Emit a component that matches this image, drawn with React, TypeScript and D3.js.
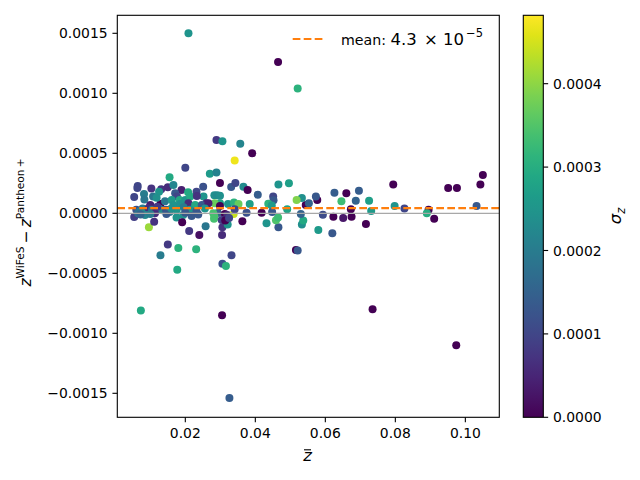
import React from 'react';
import * as d3 from 'd3';

// ---------- data ----------
const zbar = [
  0.0209,0.0465,0.0521,0.0289,0.0306,0.0357,0.0391,0.0341,0.0200,0.0270,
  0.0289,0.0155,0.1050,0.1043,0.0951,0.0976,0.0794,0.1032,0.0798,0.0826,
  0.0895,0.0890,0.0911,0.0974,0.0735,0.0305,0.0073,0.0326,0.0306,0.0316,
  0.0332,0.0177,0.0129,0.0150,0.0180,0.0231,0.0240,0.0211,0.0096,0.0258,
  0.0305,0.0306,0.0321,0.0466,0.0432,0.0459,0.0465,0.0533,0.0537,0.0580,
  0.0620,0.0516,0.0521,0.0716,0.0651,0.0623,0.0675,0.0673,0.0593,0.0577,
  0.0544,0.0553,0.0573,0.0533,0.0518,0.0491,0.0530,0.0626,0.0646,0.0660,
  0.0687,0.0696,0.0725,0.0731,0.0466,0.0496,0.0299,0.0331,0.0343,0.0366,
  0.0378,0.0407,0.0283,0.0291,0.0299,0.0451,0.0452,0.0299,0.0322,0.0339,
  0.0352,0.0384,0.0437,0.0447,0.0284,0.0299,0.0293,0.0313,0.0320,0.0338,
  0.0341,0.0375,0.0418,0.0448,0.0283,0.0282,0.0304,0.0314,0.0325,0.0363,
  0.0064,0.0063,0.0103,0.0131,0.0150,0.0166,0.0189,0.0208,0.0232,0.0251,
  0.0054,0.0082,0.0083,0.0108,0.0125,0.0171,0.0176,0.0184,0.0200,0.0214,
  0.0252,0.0260,0.0129,0.0100,0.0118,0.0142,0.0161,0.0166,0.0185,0.0209,
  0.0228,0.0247,0.0266,0.0233,0.0060,0.0070,0.0078,0.0088,0.0095,0.0105,
  0.0115,0.0125,0.0135,0.0145,0.0155,0.0175,0.0213,0.0232,0.0256,0.0054,
  0.0085,0.0113,0.0111,0.0146,0.0194,0.0175,0.0218,0.0237,0.0280,0.0191,
  0.0065,0.0072,0.0100,0.0160,0.0120,0.0195,0.0200,
];

// z_WiFeS - z_Pantheon+, in units of 1e-4
const dzE4 = [
  15.0,12.6,10.4,6.1,6.0,5.8,5.0,4.4,3.8,3.3,
  3.4,3.0,3.2,2.4,2.1,2.1,2.4,0.6,0.6,0.4,
  0.3,0.0,-0.45,-11.0,-8.0,-8.5,-8.1,-15.4,-4.2,-4.4,
  -3.5,-4.7,-3.5,-2.6,-2.9,-3.0,-1.8,-1.47,-1.17,-1.08,
  -1.8,-1.17,-0.94,-1.17,-0.83,-0.58,-0.36,-0.94,-0.61,-1.39,
  -1.66,-3.06,-3.11,-0.9,-0.39,-0.28,-0.28,0.33,-0.12,1.11,
  0.69,0.83,1.39,1.28,1.11,0.33,-0.06,1.72,1.0,1.67,
  1.05,1.88,1.05,0.19,2.4,2.5,2.52,2.2,2.52,2.22,
  1.94,1.55,1.5,1.5,1.47,1.39,1.08,0.83,0.78,0.89,
  0.78,0.78,0.8,0.65,0.83,0.61,0.03,-0.06,-0.14,-0.06,
  0.33,0.05,0.05,0.1,-0.28,-0.45,-0.56,-0.61,-0.4,-0.66,
  2.28,2.11,2.06,2.0,2.18,2.36,1.94,1.75,1.8,2.22,
  1.35,1.6,1.15,1.39,1.8,1.67,1.39,1.11,1.11,1.39,
  1.39,0.83,0.78,0.69,1.3,1.0,1.1,0.7,0.78,0.83,
  0.7,0.7,0.83,1.44,0.3,0.15,0.4,0.2,0.45,0.3,
  0.15,0.4,0.25,0.3,0.1,0.28,0.3,0.2,0.4,-0.3,
  -0.14,0.0,-0.7,-0.05,-0.14,-0.35,-0.22,-0.1,0.0,-0.75,
  0.0,-0.1,-0.05,0.4,0.55,0.5,0.05,
];

// sigma_z, in units of 1e-5
const sigmaE5 = [
  25,0,31,8,25,22,0,47,10,26,
  21,29,0,0,0,0,0,13,25,10,
  0,30,0,0,0,0,29,14,12,31,
  10,29,20,8,31,31,2,8,41,19,
  6,7,25,13,25,35,33,24,29,26,
  13,0,13,0,3,0,0,0,11,0,
  0,15,13,24,39,28,15,14,33,0,
  15,14,27,26,25,27,0,13,10,23,
  0,14,24,23,24,10,13,28,25,31,
  37,27,31,26,37,0,14,0,6,44,
  10,12,0,13,35,34,9,0,10,0,
  10,10,7,7,6,22,4,29,10,12,
  10,20,19,19,25,13,10,29,25,29,
  25,5,0,4,24,19,26,25,24,6,
  29,13,4,7,12,22,20,22,6,19,
  13,24,22,12,20,25,25,13,25,9,
  22,6,7,13,24,25,13,13,34,0,
  18,15,20,24,8,20,13,
];

const xTicks = [0.02, 0.04, 0.06, 0.08, 0.10];
const yTicks = [-0.0015, -0.001, -0.0005, 0, 0.0005, 0.001, 0.0015];
const cTicks = [0, 0.0001, 0.0002, 0.0003, 0.0004];
const meanValue = 4.3e-5;
const meanWord = 'mean:';
const meanMantissa = '4.3';
const meanBase = '10';
const meanExp = '−5';

const xDomain: [number, number] = [0.00057, 0.1097];
const yDomain: [number, number] = [-0.0017, 0.00165];
const cDomain: [number, number] = [0, 0.000482];

// ---------- layout ----------
const W = 640, H = 480;
const AX = { left: 117.3, right: 499.3, top: 15.3, bottom: 417.3 };
const CB = { left: 523.3, right: 543.3 };
const FONT = '"DejaVu Sans", sans-serif';
const FS = 13.9;
const TICK = 4.86;

const fmtY = (v: number) => (v < 0 ? '−' : '') + Math.abs(v).toFixed(4);

export default function App() {
  const x = d3.scaleLinear().domain(xDomain).range([AX.left, AX.right]);
  const y = d3.scaleLinear().domain(yDomain).range([AX.bottom, AX.top]);
  const cy = d3.scaleLinear().domain(cDomain).range([AX.bottom, AX.top]);
  const color = d3.scaleSequential(d3.interpolateViridis).domain(cDomain);

  const pts = zbar.map((z, i) => ({ z, d: dzE4[i] * 1e-4, s: sigmaE5[i] * 1e-5 }));
  const stops = d3.range(0, 1.0001, 0.05);

  return (
    <svg width={W} height={H} style={{ position: 'fixed', left: 0, top: 0, background: '#fff' }}
      fontFamily={FONT}>
      <defs>
        <linearGradient id="vir" x1="0" y1="1" x2="0" y2="0">
          {stops.map((t) => (
            <stop key={t} offset={t} stopColor={d3.interpolateViridis(t)} />
          ))}
        </linearGradient>
        <clipPath id="axclip">
          <rect x={AX.left} y={AX.top} width={AX.right - AX.left} height={AX.bottom - AX.top} />
        </clipPath>
      </defs>
      <rect x={0} y={0} width={W} height={H} fill="#fff" />

      {/* scatter */}
      <g clipPath="url(#axclip)">
        {pts.map((p, i) => (
          <circle key={i} cx={x(p.z)} cy={y(p.d)} r={4.0} fill={color(p.s)} />
        ))}
        <line x1={AX.left} x2={AX.right} y1={y(0)} y2={y(0)} stroke="#a8a8a8" strokeWidth={1.2} />
        <line x1={AX.left} x2={AX.right} y1={y(meanValue)} y2={y(meanValue)}
          stroke="#ff7f0e" strokeWidth={2.08} strokeDasharray="7.7 3.3" />
      </g>

      {/* axes frame */}
      <rect x={AX.left} y={AX.top} width={AX.right - AX.left} height={AX.bottom - AX.top}
        fill="none" stroke="#000" strokeWidth={1.1} />

      {/* x ticks */}
      {xTicks.map((t) => (
        <g key={t}>
          <line x1={x(t)} x2={x(t)} y1={AX.bottom} y2={AX.bottom + TICK} stroke="#000" strokeWidth={1.1} />
          <text x={x(t)} y={AX.bottom + TICK + 4.86 + 10.9} fontSize={FS} textAnchor="middle">{t.toFixed(2)}</text>
        </g>
      ))}
      {/* y ticks */}
      {yTicks.map((t) => (
        <g key={t}>
          <line x1={AX.left - TICK} x2={AX.left} y1={y(t)} y2={y(t)} stroke="#000" strokeWidth={1.1} />
          <text x={AX.left - TICK - 4.86} y={y(t) + 5.1} fontSize={FS} textAnchor="end">{fmtY(t)}</text>
        </g>
      ))}

      {/* x label: z-bar */}
      <text x={307.5} y={460.7} fontSize={16.5} fontStyle="italic" textAnchor="middle">z</text>
      <line x1={304} x2={311} y1={449.8} y2={449.8} stroke="#000" strokeWidth={1.1} />

      {/* y label */}
      <text transform="translate(30.5,222.5) rotate(-90)" fontSize={15.5} textAnchor="middle">
        <tspan fontStyle="italic">z</tspan>
        <tspan fontSize={10.6} dy={-7}>WiFeS</tspan>
        <tspan dy={7}>{'\u2009−\u2009'}</tspan>
        <tspan fontStyle="italic">z</tspan>
        <tspan fontSize={10.6} dy={-7}>{'Pantheon\u2009+'}</tspan>
      </text>

      {/* legend */}
      <line x1={292.7} x2={322.7} y1={39} y2={39} stroke="#ff7f0e" strokeWidth={2.08} strokeDasharray="7.7 3.3" />
      <text x={341} y={45} fontSize={14.2}>{meanWord}</text>
      <text x={390.5} y={45} fontSize={16.5}>{meanMantissa}</text>
      <text x={431} y={45} fontSize={16.5} textAnchor="middle">×</text>
      <text x={443} y={45} fontSize={16.5}>{meanBase}</text>
      <text x={466} y={36.5} fontSize={11.5}>{meanExp}</text>

      {/* colorbar */}
      <rect x={CB.left} y={AX.top} width={CB.right - CB.left} height={AX.bottom - AX.top} fill="url(#vir)" />
      <rect x={CB.left} y={AX.top} width={CB.right - CB.left} height={AX.bottom - AX.top}
        fill="none" stroke="#000" strokeWidth={1.1} />
      {cTicks.map((t) => (
        <g key={t}>
          <line x1={CB.right} x2={CB.right + TICK} y1={cy(t)} y2={cy(t)} stroke="#000" strokeWidth={1.1} />
          <text x={CB.right + TICK + 4.86} y={cy(t) + 5.1} fontSize={FS}>{t.toFixed(4)}</text>
        </g>
      ))}
      <text transform="translate(621,216) rotate(-90)" fontSize={16.5} textAnchor="middle">
        <tspan fontStyle="italic">σ</tspan>
        <tspan fontStyle="italic" fontSize={11.5} dy={3.5}>z</tspan>
      </text>
    </svg>
  );
}
